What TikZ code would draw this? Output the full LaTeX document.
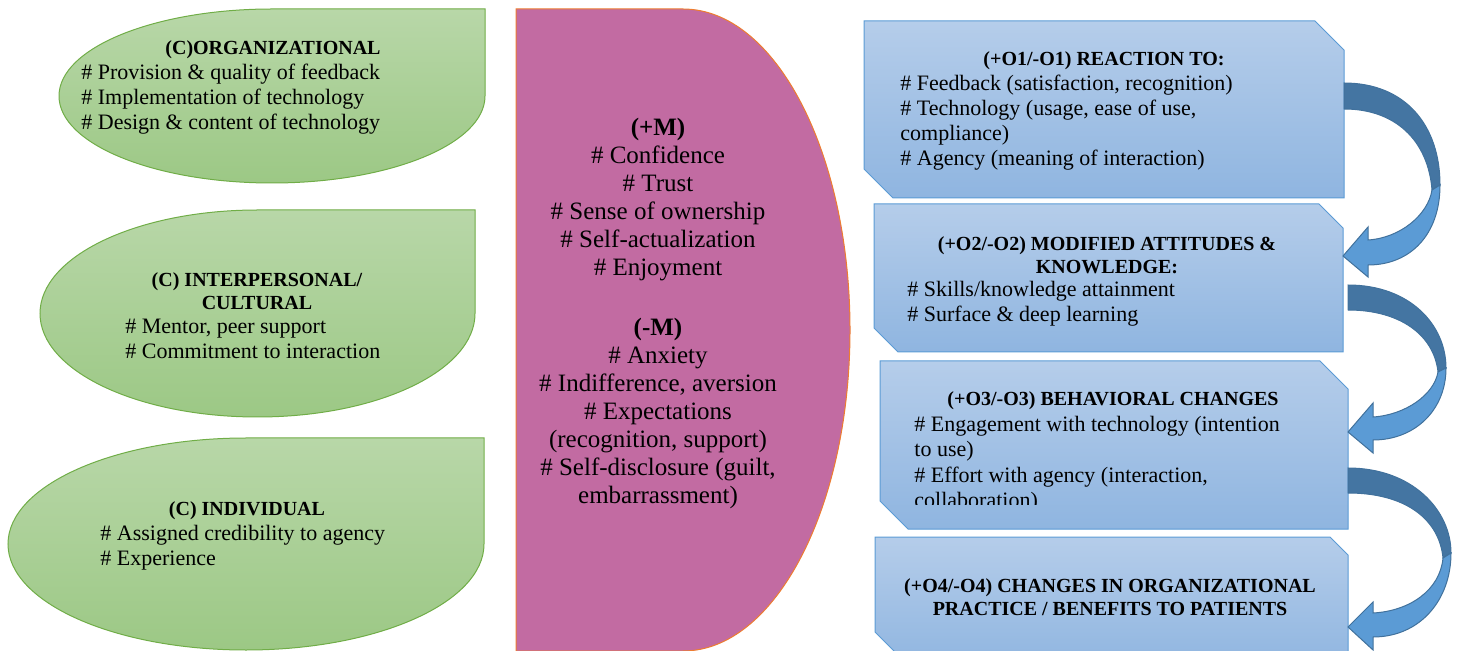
\documentclass[tikz,border=0pt]{standalone}
\usepackage{fontspec}
\setmainfont{Liberation Serif}
\usetikzlibrary{positioning}
\definecolor{leaftop}{RGB}{184,215,168}
\definecolor{leafbot}{RGB}{156,200,133}
\definecolor{leafline}{RGB}{112,173,71}
\definecolor{mechfill}{RGB}{194,107,162}
\definecolor{mechline}{RGB}{237,125,49}
\definecolor{boxtop}{RGB}{181,205,234}
\definecolor{boxbot}{RGB}{143,181,224}
\definecolor{boxline}{RGB}{91,155,213}
\definecolor{arrowdark}{RGB}{68,117,162}
\definecolor{arrowlight}{RGB}{91,155,213}
\definecolor{arrowline}{RGB}{65,113,156}
\tikzset{
  leaf/.style={draw=leafline,line width=0.5pt,top color=leaftop,bottom color=leafbot},
  mech/.style={draw=mechline,line width=0.5pt,fill=mechfill},
  outbox/.style={draw=boxline,line width=0.5pt,top color=boxtop,bottom color=boxbot},
  darkarrow/.style={draw=arrowline,line width=0.5pt,fill=arrowdark},
  lightarrow/.style={draw=arrowline,line width=0.5pt,fill=arrowlight},
  head/.style={font=\fontsize{10}{11.5}\selectfont\bfseries,align=center,inner sep=0pt,anchor=base},
  body/.style={font=\fontsize{11}{12.5}\selectfont,align=left,inner sep=0pt,anchor=base west},
  mtext/.style={font=\fontsize{12.5}{14}\selectfont,align=center,inner sep=0pt,anchor=base}
}
\begin{document}
\begin{tikzpicture}[x=0.5pt,y=-0.5pt]
\useasboundingbox (0,0) rectangle (1460,651);

\draw[leaf] (272,9) -- (485,9) -- (485,96) arc[start angle=0,end angle=270,x radius=213,y radius=87] -- cycle;
\draw[leaf] (257.5,210) -- (475,210) -- (475,313.5) arc[start angle=0,end angle=270,x radius=217.5,y radius=103.5] -- cycle;
\draw[leaf] (246,438) -- (484,438) -- (484,544) arc[start angle=0,end angle=270,x radius=238,y radius=106] -- cycle;

\draw[mech] (516,9) -- (683,9) arc[start angle=270,end angle=450,x radius=167,y radius=321] -- (516,651) -- cycle;

\draw[outbox] (864,21) -- (1315,21) -- (1344,50) -- (1344,198) -- (893,198) -- (864,169) -- cycle;
\draw[outbox] (874,204) -- (1319,204) -- (1343,228) -- (1343,352) -- (898,352) -- (874,328) -- cycle;
\draw[outbox] (880,361) -- (1320,361) -- (1348,389) -- (1348,529) -- (908,529) -- (880,501) -- cycle;
\draw[outbox] (875,537) -- (1330,537) -- (1348,555) -- (1348,668) -- (911,668) -- (875,632) -- cycle;

\draw[darkarrow] (1344,83) .. controls (1405,83) and (1440,125) .. (1440,185) -- (1432,190) .. controls (1428,140) and (1395,109) .. (1344,109) -- cycle;
\draw[lightarrow] (1440,185) .. controls (1440,235) and (1410,265) .. (1368,265) -- (1368,277) -- (1343,256) -- (1368,227) -- (1368,240) .. controls (1400,238) and (1428,215) .. (1432,190) -- cycle;
\draw[darkarrow] (1348,285) .. controls (1410,285) and (1446,325) .. (1446,368) -- (1438,372) .. controls (1434,335) and (1400,310) .. (1348,310) -- cycle;
\draw[lightarrow] (1446,368) .. controls (1446,410) and (1415,440) .. (1373,440) -- (1373,453) -- (1348,432) -- (1373,403) -- (1373,417) .. controls (1405,415) and (1434,395) .. (1438,372) -- cycle;
\draw[darkarrow] (1348,468) .. controls (1412,468) and (1451,510) .. (1451,553) -- (1443,558) .. controls (1439,518) and (1404,493) .. (1348,493) -- cycle;
\draw[lightarrow] (1451,553) .. controls (1451,600) and (1420,637) .. (1373,637) -- (1373,650) -- (1348,627) -- (1373,602) -- (1373,613) .. controls (1410,611) and (1440,590) .. (1443,558) -- cycle;

\node[head] (c1) at (273,55) {(C)ORGANIZATIONAL};
\node[body] (c1b) at (81,130) {\# Provision \& quality of feedback\\\# Implementation of technology\\\# Design \& content of technology};
\node[head] (c2) at (257,310) {(C) INTERPERSONAL/\\CULTURAL};
\node[body] (c2b) at (125,359) {\# Mentor, peer support\\\# Commitment to interaction};
\node[head] (c3) at (247,516) {(C) INDIVIDUAL};
\node[body] (c3b) at (100,565) {\# Assigned credibility to agency\\\# Experience};

\node[mtext] (mplus) at (658,276) {\textbf{(+M)}\\\# Confidence\\\# Trust\\\# Sense of ownership\\\# Self-actualization\\\# Enjoyment};
\node[mtext] (mminus) at (658,503) {\textbf{(-M)}\\\# Anxiety\\\# Indifference, aversion\\\# Expectations\\(recognition, support)\\\# Self-disclosure (guilt,\\embarrassment)};

\node[head] (o1) at (1104,66) {(+O1/-O1) REACTION TO:};
\node[body] (o1b) at (900,166) {\# Feedback (satisfaction, recognition)\\\# Technology (usage, ease of use,\\compliance)\\\# Agency (meaning of interaction)};
\node[head] (o2) at (1107,274) {(+O2/-O2) MODIFIED ATTITUDES \&\\KNOWLEDGE:};
\node[body] (o2b) at (907,322) {\# Skills/knowledge attainment\\\# Surface \& deep learning};
\node[head] (o3) at (1113,406) {(+O3/-O3) BEHAVIORAL CHANGES};
\begin{scope}
\clip (880,415) rectangle (1348,504);
\node[body] (o3b) at (914,507) {\# Engagement with technology (intention\\to use)\\\# Effort with agency (interaction,\\collaboration)};
\end{scope}
\node[head] (o4) at (1110,615) {(+O4/-O4) CHANGES IN ORGANIZATIONAL\\PRACTICE / BENEFITS TO PATIENTS};

\end{tikzpicture}
\end{document}
